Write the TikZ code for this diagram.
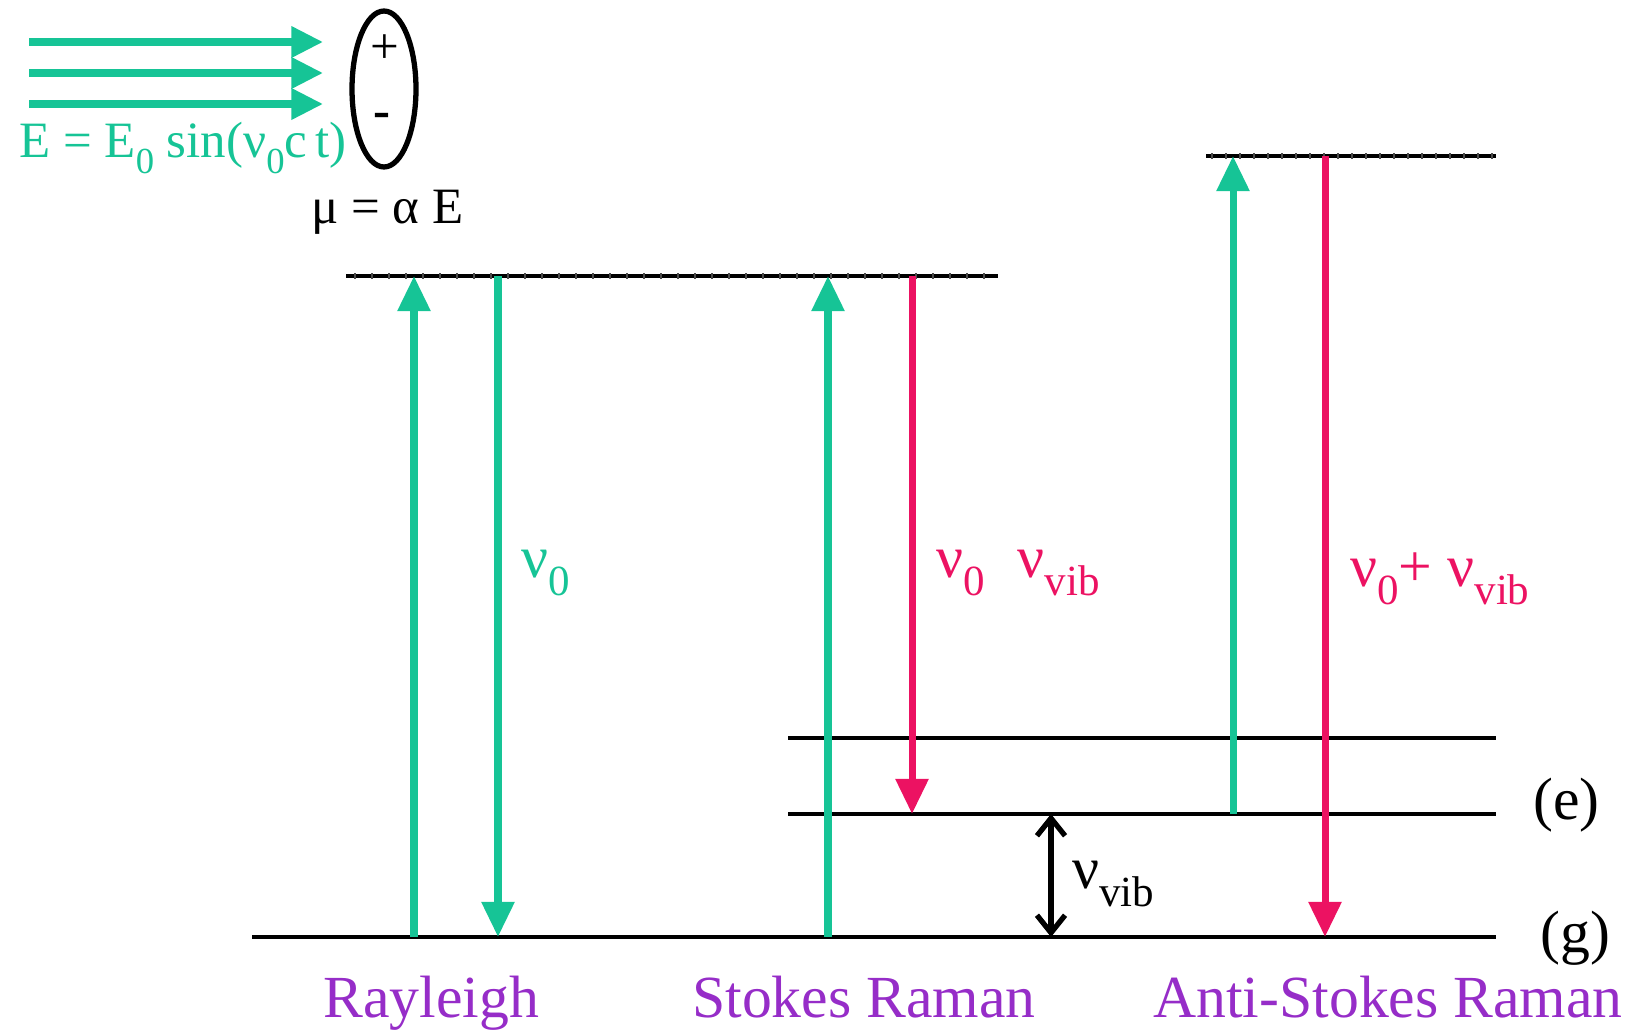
\documentclass[tikz,border=0pt]{standalone}
\usepackage{fontspec}
\setmainfont{Liberation Serif}
\usetikzlibrary{shapes.geometric, arrows.meta, positioning}
\definecolor{laser}{RGB}{22,196,150}
\definecolor{raman}{RGB}{236,18,98}
\definecolor{lblpurple}{RGB}{150,45,200}
\newcommand{\dn}[1]{\raisebox{-.3em}{\scalebox{.72}{#1}}}

\begin{document}
\begin{tikzpicture}[x=0.02cm, y=-0.02cm,
    lvl/.style={line width=2.4pt},
    tick/.style={line width=0.6pt, black!70},
    upgreen/.style={laser, line width=4pt, -{Triangle[length=20pt,width=18pt]}},
    dnred/.style={raman, line width=4pt, -{Triangle[length=20pt,width=18pt]}},
    beam/.style={laser, line width=4pt, -{Triangle[length=18pt,width=17pt]}},
    big/.style={font=\fontsize{34}{40}\selectfont, inner sep=0pt},
    mid/.style={font=\fontsize{29}{34}\selectfont, inner sep=0pt}
  ]
    \useasboundingbox (0,0) rectangle (1635,1034);

    %% energy levels
    \coordinate (gL) at (252,937);  \coordinate (gR) at (1496,937);
    \coordinate (eL) at (788,814);  \coordinate (eR) at (1496,814);
    \coordinate (fL) at (788,738);  \coordinate (fR) at (1496,738);
    \coordinate (v1L) at (346,276); \coordinate (v1R) at (998,276);
    \coordinate (v2L) at (1206,156); \coordinate (v2R) at (1496,156);

    \draw[lvl] (gL) -- (gR);
    \draw[lvl] (eL) -- (eR);
    \draw[lvl] (fL) -- (fR);
    \draw[lvl] (v1L) -- (v1R);
    \draw[lvl] (v2L) -- (v2R);

    %% virtual levels: small ticks
    \foreach \x in {355,372,...,990}
      \draw[tick] (\x,273) -- (\x,279);
    \foreach \x in {1212,1226,...,1492}
      \draw[tick] (\x,153) -- (\x,159);

    %% arrow columns
    \coordinate (ray1) at (414,0);
    \coordinate (ray2) at (498,0);
    \coordinate (sto1) at (828,0);
    \coordinate (sto2) at (912,0);
    \coordinate (vib) at (1051,0);
    \coordinate (ant1) at (1233,0);
    \coordinate (ant2) at (1325,0);

    %% Rayleigh
    \draw[upgreen] (ray1 |- gL) -- (ray1 |- v1L);
    \draw[upgreen] (ray2 |- v1L) -- (ray2 |- gL);

    %% Stokes
    \draw[upgreen] (sto1 |- gL) -- (sto1 |- v1L);
    \draw[dnred] (sto2 |- v1L) -- (sto2 |- eL);

    %% Anti-Stokes
    \draw[upgreen] (ant1 |- eL) -- (ant1 |- v2L);
    \draw[dnred] (ant2 |- v2L) -- (ant2 |- gL);

    %% vibrational spacing
    \draw[line width=3pt, {Straight Barb[length=10pt,width=16pt]}-{Straight Barb[length=10pt,width=16pt]}]
      (vib |- eL) -- (vib |- gL);

    %% labels
    \node[big, text=laser, anchor=west] (nu0) at (521,573) {ν\dn{0}};
    \node[big, text=raman, anchor=west] (nustokes) at (936,573) {ν\dn{0}\hspace{0.55em}ν\dn{vib}};
    \node[big, text=raman, anchor=west] (nuanti) at (1350,579) {ν\dn{0}+ ν\dn{vib}};
    \node[big, anchor=west] (nuvib) at (1072,884) {ν\dn{vib}};
    \node[big, anchor=west] (elbl) at (1533,805) {(e)};
    \node[big, anchor=west] (glbl) at (1540,938) {(g)};

    \node[big, text=lblpurple, anchor=base] (rayl) at (431,1017) {Rayleigh};
    \node[big, text=lblpurple, anchor=base] (stok) at (864,1017) {Stokes Raman};
    \node[big, text=lblpurple, anchor=base] (anti) at (1388,1017) {Anti-Stokes Raman};

    %% incoming field and induced dipole
    \coordinate (b1) at (29,42);  \coordinate (b1e) at (323,42);
    \coordinate (b2) at (29,73);  \coordinate (b2e) at (323,73);
    \coordinate (b3) at (29,104); \coordinate (b3e) at (323,104);
    \draw[beam] (b1) -- (b1e);
    \draw[beam] (b2) -- (b2e);
    \draw[beam] (b3) -- (b3e);

    \node[draw, ellipse, line width=3pt, minimum width=1.28cm, minimum height=3.12cm,
          inner sep=0pt] (dipole) at (384,89) {};
    \node[mid] (plus) at (385,49) {+};
    \node[mid] (minus) at (382,120) {\textbf{-}};

    \node[mid, text=laser, anchor=west] (field) at (19,148)
      {E = E\dn{0} sin(ν\dn{0}c\,t)};
    \node[mid, anchor=west] (mu) at (311,212) {μ = α E};
  \end{tikzpicture}
\end{document}
